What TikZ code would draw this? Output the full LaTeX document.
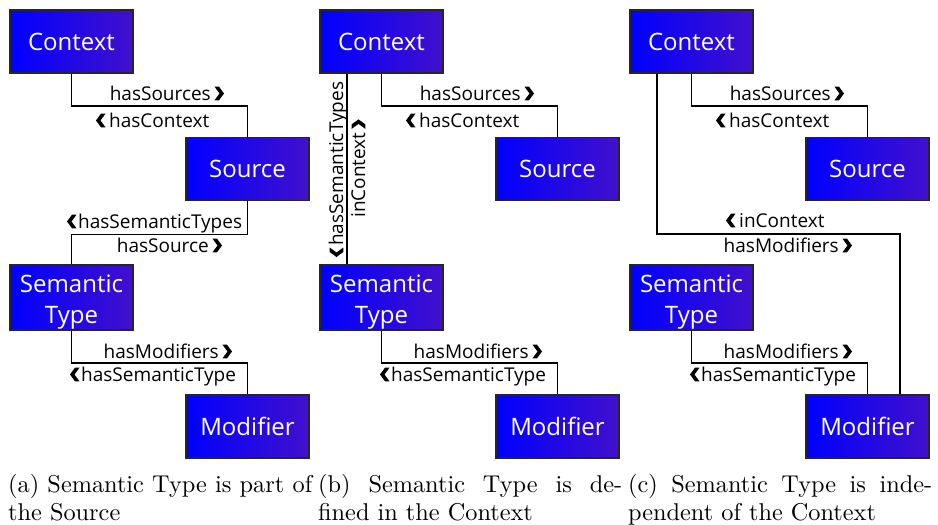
\documentclass[tikz,border=0pt]{standalone}
\usepackage{fontspec}
\newfontfamily\capfont[Extension=.otf]{lmroman10-regular}
\newfontfamily\boxfont{Open Sans}
\definecolor{boxL}{RGB}{0,0,255}
\definecolor{boxR}{RGB}{66,16,204}
\newcommand\chevgap{\kern13pt}
\newcommand\chevgapn{\kern11pt}
\tikzset{
  entity/.style={rectangle, draw=black!85, line width=1.6pt, minimum width=123pt,
    minimum height=63pt, left color=boxL, right color=boxR, text=white,
    align=center, inner sep=0pt, font=\boxfont\fontsize{24}{31}\selectfont},
  rel/.style={font=\boxfont\fontsize{19}{21}\selectfont, inner sep=0pt, text=black},
  link/.style={line width=1.5pt, black},
  caption/.style={anchor=base west, inner sep=0pt, text width=304pt, align=justify,
    font=\capfont\fontsize{24.3}{28.5}\selectfont},
  % heavy chevrons marking the direction of a relation; origin on the baseline
  chevright/.pic={\fill[black] (-9.5pt,-0.3pt) -- (-5pt,-0.3pt) -- (0pt,6.5pt) -- (-5pt,13.3pt)
      -- (-9.5pt,13.3pt) -- (-4.5pt,6.5pt) -- cycle;},
  chevleft/.pic={\fill[black] (9.5pt,-0.3pt) -- (5pt,-0.3pt) -- (0pt,6.5pt) -- (5pt,13.3pt)
      -- (9.5pt,13.3pt) -- (4.5pt,6.5pt) -- cycle;}
}
\begin{document}
\begin{tikzpicture}[x=1pt,y=-1pt]
\useasboundingbox (0,0) rectangle (938,525);

% ---------- (a) Semantic Type is part of the Source ----------
\node[entity] (ctxA) at (71.5,41.5) {Context};
\node[entity] (srcA) at (247.5,169) {Source};
\node[entity, minimum height=65pt] (semA) at (71.5,297.5) {\rule{0pt}{26pt}Semantic\\Type};
\node[entity] (modA) at (247.5,426.5) {Modifier};
\draw[link] (ctxA.south) -- ++(0,32) -| (srcA.north);
\draw[link] (srcA.south) -- ++(0,33) -| (semA.north);
\draw[link] (semA.south) -- ++(0,32) -| (modA.north);
\node[rel, anchor=base east] (la1) at (224,100) {hasSources\chevgap};
\node[rel, anchor=base west] (la2) at (96,127) {\chevgap hasContext};
\node[rel, anchor=base west] (la3) at (67,228) {\chevgapn hasSemanticTypes};
\node[rel, anchor=base east] (la4) at (222,252) {hasSource\chevgap};
\node[rel, anchor=base east] (la5) at (232,358) {hasModifiers\chevgap};
\node[rel, anchor=base west] (la6) at (70,381) {\chevgapn hasSemanticType};
\pic at (la1.base east) {chevright};
\pic at (la2.base west) {chevleft};
\pic at (la3.base west) {chevleft};
\pic at (la4.base east) {chevright};
\pic at (la5.base east) {chevright};
\pic at (la6.base west) {chevleft};

% ---------- (b) Semantic Type is defined in the Context ----------
\node[entity] (ctxB) at (381.5,41.5) {Context};
\node[entity] (srcB) at (557.5,169) {Source};
\node[entity, minimum height=65pt] (semB) at (381.5,297.5) {\rule{0pt}{26pt}Semantic\\Type};
\node[entity] (modB) at (557.5,426.5) {Modifier};
\draw[link] (ctxB.south) -- ++(0,32) -| (srcB.north);
\draw[link] ([xshift=-34.5pt]ctxB.south) -- ([xshift=-34.5pt]semB.north);
\draw[link] (semB.south) -- ++(0,32) -| (modB.north);
\node[rel, anchor=base east] (lb1) at (534,100) {hasSources\chevgap};
\node[rel, anchor=base west] (lb2) at (406,127) {\chevgap hasContext};
\node[rel, anchor=base west, rotate=90] (lb3) at (343,257) {\chevgapn hasSemanticTypes};
\node[rel, anchor=base west, rotate=90] (lb4) at (365,218) {inContext\chevgap};
\node[rel, anchor=base east] (lb5) at (542,358) {hasModifiers\chevgap};
\node[rel, anchor=base west] (lb6) at (380,381) {\chevgapn hasSemanticType};
\pic at (lb1.base east) {chevright};
\pic at (lb2.base west) {chevleft};
\pic[rotate=90] at (lb3.base west) {chevleft};
\pic[rotate=90] at (lb4.base east) {chevright};
\pic at (lb5.base east) {chevright};
\pic at (lb6.base west) {chevleft};

% ---------- (c) Semantic Type is independent of the Context ----------
\node[entity] (ctxC) at (691.5,41.5) {Context};
\node[entity] (srcC) at (867.5,169) {Source};
\node[entity, minimum height=65pt] (semC) at (691.5,297.5) {\rule{0pt}{26pt}Semantic\\Type};
\node[entity] (modC) at (867.5,426.5) {Modifier};
\draw[link] (ctxC.south) -- ++(0,32) -| (srcC.north);
\draw[link] ([xshift=-34.5pt]ctxC.south) -- ++(0,160) -| ([xshift=32.5pt]modC.north);
\draw[link] (semC.south) -- ++(0,32) -| (modC.north);
\node[rel, anchor=base east] (lc1) at (844,100) {hasSources\chevgap};
\node[rel, anchor=base west] (lc2) at (716,127) {\chevgap hasContext};
\node[rel, anchor=base west] (lc3) at (726,227) {\chevgap inContext};
\node[rel, anchor=base east] (lc4) at (852,252) {hasModifiers\chevgap};
\node[rel, anchor=base east] (lc5) at (852,358) {hasModifiers\chevgap};
\node[rel, anchor=base west] (lc6) at (690,381) {\chevgapn hasSemanticType};
\pic at (lc1.base east) {chevright};
\pic at (lc2.base west) {chevleft};
\pic at (lc3.base west) {chevleft};
\pic at (lc4.base east) {chevright};
\pic at (lc5.base east) {chevright};
\pic at (lc6.base west) {chevleft};

% ---------- sub-captions ----------
\node[caption] (capA) at (8,492) {(a) Semantic Type is part of\linebreak the Source};
\node[caption] (capB) at (318,492) {(b) Semantic Type is de-\linebreak fined in the Context};
\node[caption] (capC) at (628,492) {(c) Semantic Type is inde-\linebreak pendent of the Context};
\end{tikzpicture}
\end{document}
